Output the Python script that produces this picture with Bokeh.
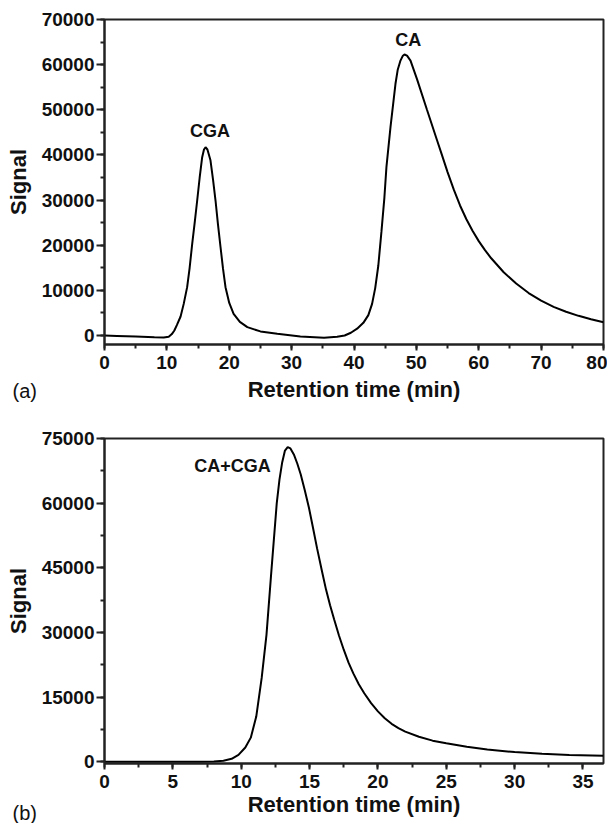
from bokeh.plotting import figure
from bokeh.models import ColumnDataSource, Title, SingleIntervalTicker, Range1d
from bokeh.layouts import column
from bokeh.core.properties import value
from bokeh.embed import file_html
from bokeh.resources import INLINE

# ---- panel (a) data ----
TIME_A = [0, 2, 5, 8, 9.5, 10.3, 10.8, 11.2, 11.6, 12.2,
          12.7, 13.25, 13.65, 14.06, 14.46, 14.86, 15.26, 15.66, 15.95, 16.2,
          16.5, 16.99, 17.4, 17.8, 18.2, 18.6, 19.0, 19.4, 20.0, 20.7,
          21.7, 22.9, 25.0, 27.7, 31.4, 35.2, 37.3, 38.5, 39.5, 40.5,
          41.5, 42.3, 42.9, 43.4, 43.9, 44.4, 44.87, 45.2, 45.85, 46.65,
          47.0, 47.45, 47.8, 48.1, 48.5, 49.06, 50.1, 51.7, 53.3, 54,
          55, 56, 57, 58, 59, 60, 61, 62, 64, 66,
          68, 70, 72, 74, 76, 78, 80]
SIGNAL_A = [0, -100, -250, -400, -450, -300, 300, 1100, 2300, 4200,
            7000, 10700, 15000, 20300, 25000, 29900, 35000, 39500, 41200, 41700,
            41200, 38800, 34500, 29900, 24500, 19600, 14800, 10700, 7200, 4800,
            3000, 1840, 900, 370, -220, -500, -300, 0, 600, 1500,
            2800, 4500, 7000, 10500, 15500, 23000, 30500, 37300, 46150, 55760,
            58800, 60900, 61900, 62250, 62000, 60900, 56800, 50000, 43300, 40400,
            36200, 32300, 28800, 25800, 23200, 20900, 18900, 17100, 14000, 11500,
            9400, 7700, 6350, 5250, 4350, 3600, 2950]
PEAK_TEXT_A = ["CGA", "CA"]
PEAK_TIME_A = [16.9, 48.7]
PEAK_SIGNAL_A = [45300, 65500]

# ---- panel (b) data ----
TIME_B = [0, 4, 7, 8, 8.7, 9.3, 9.8, 10.3, 10.7, 11.1,
          11.5, 11.85, 12.2, 12.6, 12.8, 13.0, 13.2, 13.4, 13.6, 13.85,
          14.1, 14.35, 14.65, 14.95, 15.25, 15.55, 15.9, 16.2, 16.5, 16.8,
          17.15, 17.5, 17.85, 18.2, 18.6, 19.0, 19.5, 20.0, 20.5, 21.0,
          21.5, 22.0, 23.0, 24.0, 25.0, 26.5, 28.0, 30.0, 32.0, 34.0,
          36.5]
SIGNAL_B = [0, 0, 0, 50, 250, 700, 1600, 3300, 5600, 10500,
            19500, 29500, 44000, 60000, 65500, 69500, 72200, 73000, 72700, 71300,
            69200, 66700, 63000, 59000, 54300, 49500, 44300, 40000, 36300, 33000,
            29300, 26000, 23000, 20500, 18000, 15900, 13600, 11700, 10100, 8800,
            7800, 7000, 5800, 4900, 4300, 3500, 2850, 2250, 1850, 1600,
            1400]
PEAK_TEXT_B = ["CA+CGA"]
PEAK_TIME_B = [9.37]
PEAK_SIGNAL_B = [68700]

FONT = "Liberation Sans"
INK = "#111111"
AXC = "#222222"


def make_panel(t, s, ptxt, pt, ps, xr, yr, xint, yint, height, top, bottom,
               lab_standoff, tag, tag_standoff):
    p = figure(width=607, height=height, x_range=Range1d(*xr), y_range=Range1d(*yr),
               output_backend="svg", toolbar_location=None, title=None,
               min_border_left=104, min_border_right=4,
               min_border_top=top, min_border_bottom=bottom)
    p.background_fill_color = "white"
    p.border_fill_color = "white"
    p.outline_line_color = AXC
    p.outline_line_width = 2
    p.xgrid.visible = False
    p.ygrid.visible = False

    p.xaxis.ticker = SingleIntervalTicker(interval=xint, num_minor_ticks=2)
    p.yaxis.ticker = SingleIntervalTicker(interval=yint, num_minor_ticks=2)
    for ax in (p.xaxis[0], p.yaxis[0]):
        ax.axis_line_color = AXC
        ax.axis_line_width = 2
        ax.major_tick_line_color = AXC
        ax.minor_tick_line_color = AXC
        ax.major_tick_line_width = 2
        ax.minor_tick_line_width = 2
        ax.major_tick_in = 0
        ax.minor_tick_in = 0
        ax.minor_tick_out = 4
        ax.major_label_text_font = FONT
        ax.major_label_text_font_style = "bold"
        ax.major_label_text_font_size = "19px"
        ax.major_label_text_color = INK
        ax.axis_label_text_font = FONT
        ax.axis_label_text_font_style = "bold"
        ax.axis_label_text_font_size = "22px"
        ax.axis_label_text_color = INK
    p.xaxis.major_tick_out = 6
    p.yaxis.major_tick_out = 8
    p.xaxis.major_label_standoff = 5
    p.xaxis.axis_label_standoff = lab_standoff
    p.yaxis.major_label_standoff = 2
    p.yaxis.axis_label_standoff = 8
    p.xaxis.axis_label = "Retention time (min)"
    p.yaxis.axis_label = "Signal"

    src = ColumnDataSource(dict(t=t, s=s))
    p.line("t", "s", source=src, line_color="black", line_width=2)

    lsrc = ColumnDataSource(dict(x=pt, y=ps, txt=ptxt))
    p.text("x", "y", text="txt", source=lsrc, text_font=value(FONT),
           text_font_style="bold", text_font_size="18px", text_color=INK,
           text_align="center", text_baseline="middle")

    p.add_layout(Title(text=tag, align="left", offset=-92, standoff=tag_standoff,
                       vertical_align="top", text_font=FONT, text_font_size="20px",
                       text_font_style="normal", text_color=INK), "below")
    return p


pa = make_panel(TIME_A, SIGNAL_A, PEAK_TEXT_A, PEAK_TIME_A, PEAK_SIGNAL_A,
                (0, 80), (-2000, 70000), 10, 10000, 408, 19, 64, 5,
                "(a)", -50)
pb = make_panel(TIME_B, SIGNAL_B, PEAK_TEXT_B, PEAK_TIME_B, PEAK_SIGNAL_B,
                (0, 36.5), (-400, 75000), 5, 15000, 415, 30, 60, 1,
                "(b)", -36)

layout = column(pa, pb, spacing=0)
open("out.html", "w").write(file_html(layout, INLINE))
